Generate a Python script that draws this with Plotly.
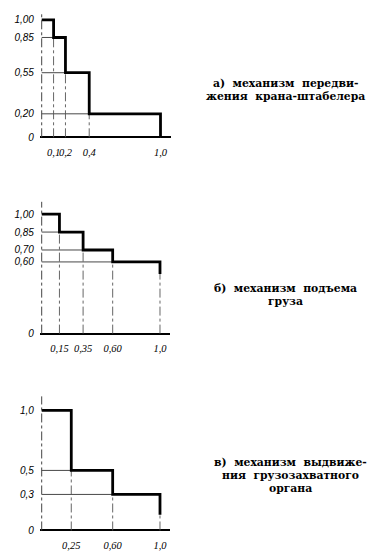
import plotly.graph_objects as go

# ---- data ----
breaks_a = [0.1, 0.2, 0.4, 1.0]
levels_a = [1.00, 0.85, 0.55, 0.20]
ytext_a = ["0", "0,20", "0,55", "0,85", "1,00"]
xtext_a = ["0,1", "0,2", "0,4", "1,0"]
label_a = ["а)  механизм  передви-", "жения  крана-штабелера"]

breaks_b = [0.15, 0.35, 0.60, 1.0]
levels_b = [1.00, 0.85, 0.70, 0.60]
ytext_b = ["0", "0,60", "0,70", "0,85", "1,00"]
xtext_b = ["0,15", "0,35", "0,60", "1,0"]
label_b = ["б)  механизм  подъема", "груза"]

breaks_c = [0.25, 0.60, 1.0]
levels_c = [1.0, 0.5, 0.3]
ytext_c = ["0", "0,3", "0,5", "1,0"]
xtext_c = ["0,25", "0,60", "1,0"]
label_c = ["в)  механизм  выдвиже-", "ния  грузозахватного", "органа"]

W, H = 376, 559
fig = go.Figure()

narrow = dict(family="Liberation Sans Narrow", size=10.5, color="black", style="italic")
tickfont = dict(family="Liberation Sans", size=10, color="black", style="italic")
# geometry per chart: (x0 px, px per unit x, y0 px, px per unit y, ymax, end of thick drop,
#                      label center x, label first-line y)
panels = [
    (breaks_a, levels_a, ytext_a, xtext_a, label_a, 41.7, 118.8, 138.3, 118.3, 1.06, 0.0, 285, 84),
    (breaks_b, levels_b, ytext_b, xtext_b, label_b, 41.7, 118.3, 336.0, 120.3, 1.105, 0.50, 285, 290.5),
    (breaks_c, levels_c, ytext_c, xtext_c, label_c, 41.7, 118.3, 534.3, 121.0, 1.118, 0.13, 290, 465.5),
]

for i, (brk, lev, yt, xt, lab, x0, sx, y0, sy, ymax, dend, lx, ly) in enumerate(panels):
    n = i + 1
    xa = "x" if n == 1 else f"x{n}"
    ya = "y" if n == 1 else f"y{n}"
    xmin, xmax, ymin = -0.015, 1.085, -0.015
    xd = [(x0 + xmin * sx) / W, (x0 + xmax * sx) / W]
    yd = [1 - (y0 - ymin * sy) / H, 1 - (y0 - ymax * sy) / H]

    # thin horizontal guide lines
    hx, hy = [], []
    for k in range(1, len(lev)):
        hx += [0, brk[k - 1], None]
        hy += [lev[k], lev[k], None]
    fig.add_trace(go.Scatter(x=hx, y=hy, mode="lines", xaxis=xa, yaxis=ya,
                             line=dict(color="#333", width=0.9), hoverinfo="skip"))
    # thin dash-dot vertical guide lines
    vx, vy = [], []
    for k in range(len(brk)):
        top = lev[k + 1] if k + 1 < len(lev) else lev[-1]
        vx += [brk[k], brk[k], None]
        vy += [0, top, None]
    fig.add_trace(go.Scatter(x=vx, y=vy, mode="lines", xaxis=xa, yaxis=ya,
                             line=dict(color="#555", width=0.9, dash="dashdot"), hoverinfo="skip"))
    # thick step line
    fig.add_trace(go.Scatter(x=[0] + brk, y=lev + [dend], mode="lines", xaxis=xa, yaxis=ya,
                             line=dict(color="black", width=2.8, shape="hv"), hoverinfo="skip"))

    yvals = sorted(set([0] + lev))
    fig.layout[("xaxis" if n == 1 else f"xaxis{n}")] = dict(
        domain=xd, range=[xmin, xmax], anchor=ya, showgrid=False, zeroline=False,
        showline=False, tickvals=brk, ticktext=xt, ticks="", tickfont=narrow,
        tickangle=0, ticklabelstandoff=5, fixedrange=True)
    fig.layout[("yaxis" if n == 1 else f"yaxis{n}")] = dict(
        domain=yd, range=[ymin, ymax], anchor=xa, showgrid=False, zeroline=True,
        zerolinecolor="black", zerolinewidth=1.6, showline=False,
        tickvals=yvals, ticktext=yt, ticks="", tickfont=tickfont,
        ticklabelstandoff=5, fixedrange=True)
    # dashed y-axis line
    fig.add_shape(type="line", xref=xa, yref=ya, x0=0, x1=0, y0=0, y1=ymax,
                  line=dict(color="#444", width=1, dash="dashdot"))

    for j, line in enumerate(lab):
        fig.add_annotation(text=line, xref="paper", yref="paper",
                           x=lx / W, y=1 - (ly + j * 13.2) / H, showarrow=False,
                           xanchor="center", yanchor="middle",
                           font=dict(family="DejaVu Serif", size=10.8, color="black", weight="bold"))

fig.update_layout(width=W, height=H, margin=dict(l=0, r=0, t=0, b=0),
                  paper_bgcolor="white", plot_bgcolor="white", showlegend=False)

fig.write_html("out.html", config={"displayModeBar": False})
